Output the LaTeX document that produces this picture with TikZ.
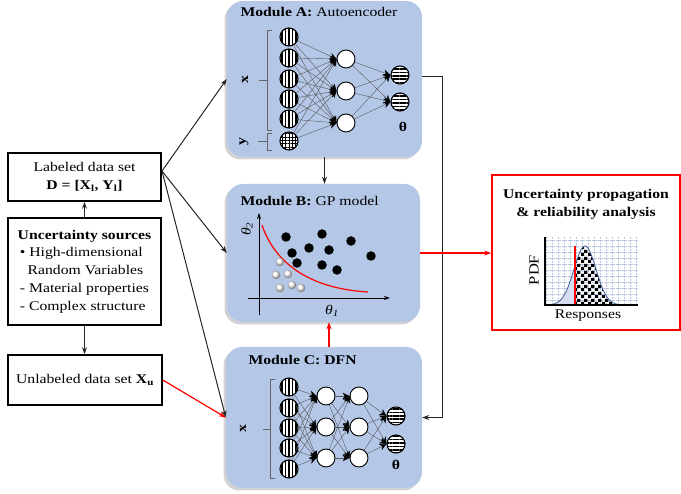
\documentclass[tikz,border=0pt]{standalone}
\usepackage{fontspec}
\setmainfont{Liberation Serif}[FakeStretch=1.18]
\usetikzlibrary{arrows.meta,shadows,patterns,patterns.meta,calc}

\definecolor{modblue}{RGB}{180,199,231}
\definecolor{curveblue}{RGB}{70,100,160}
\definecolor{gridblue}{RGB}{185,198,225}
\definecolor{tailblue}{RGB}{215,222,240}

% coarse checkerboard for the failure region of the PDF
\pgfdeclarepatternformonly{bigchecker}{\pgfqpoint{0pt}{0pt}}{\pgfqpoint{7pt}{7pt}}{\pgfqpoint{7pt}{7pt}}{%
  \pgfpathrectangle{\pgfqpoint{0pt}{0pt}}{\pgfqpoint{3.5pt}{3.5pt}}%
  \pgfpathrectangle{\pgfqpoint{3.5pt}{3.5pt}}{\pgfqpoint{3.5pt}{3.5pt}}%
  \pgfusepath{fill}}

\tikzset{
  module/.style={rectangle, rounded corners=16pt, fill=modblue, draw=none,
    drop shadow={shadow xshift=-2.5pt, shadow yshift=-2.5pt, opacity=0.35}},
  box/.style={rectangle, draw=black, line width=1.6pt, fill=white, inner sep=2pt,
    drop shadow={shadow xshift=-1.5pt, shadow yshift=-1.5pt, opacity=0.3}},
  arr/.style={draw=black!85, line width=1pt, -{Stealth[length=7pt,width=5pt]}},
  redarr/.style={arr, draw=red, fill=red, line width=1.2pt},
  conn/.style={draw=black!65, line width=0.4pt, -{Stealth[length=7pt,width=6.5pt,black]}},
  nn/.style={circle, minimum size=18pt, inner sep=0pt, draw=black, line width=1.1pt},
  vin/.style={nn, preaction={fill=white}, pattern={Lines[angle=90,distance=3.4pt,line width=1.5pt]}},
  hin/.style={nn, preaction={fill=white}, pattern={Lines[angle=0,distance=3.4pt,line width=1.5pt]}},
  gin/.style={nn, preaction={fill=white}, pattern={Hatch[angle=0,distance=3.4pt,line width=0.8pt]}},
  hid/.style={nn, fill=white, line width=0.9pt},
  brk/.style={draw=black!60, line width=0.6pt},
  bdot/.style={circle, minimum size=9.5pt, inner sep=0pt, fill=black},
  wdot/.style={circle, minimum size=8.5pt, inner sep=0pt, shading=ball, ball color=white},
  axis/.style={draw=black, line width=0.8pt, -{Stealth[length=6pt,width=4pt]}},
}

\begin{document}
\begin{tikzpicture}[x=1pt, y=-1pt, font=\fontsize{13.3}{16}\selectfont]
\useasboundingbox (0,0) rectangle (681,494);

% ---------- the three modules ----------
\node[module, minimum width=195pt, minimum height=156pt] (modA) at (324.5,79) {};
\node[module, minimum width=193pt, minimum height=138pt] (modB) at (323.5,253) {};
\node[module, minimum width=196pt, minimum height=141pt] (modC) at (324,417.5) {};

\node[anchor=west] (tA) at (237,12) {\textbf{Module A:} Autoencoder};
\node[anchor=west] (tB) at (237,201) {\textbf{Module B:} GP model};
\node[anchor=west] (tC) at (245,360) {\textbf{Module C: DFN}};

% ---------- data boxes ----------
\node[box, minimum width=153pt, minimum height=48pt, align=center] (lab) at (84.5,177)
  {Labeled data set\\[2pt]\textbf{D = [X\textsubscript{l}, Y\textsubscript{l}]}};
\node[box, minimum width=153pt, minimum height=107pt, align=left,
      font=\fontsize{13.3}{17.7}\selectfont] (unc) at (84.5,271.5)
  {\textbf{Uncertainty sources}\\
   \,• High-dimensional\\
   \hspace*{0.75em}Random Variables\\
   \,- Material properties\\
   \,- Complex structure};
\node[box, minimum width=154pt, minimum height=50pt] (unl) at (85,380)
  {Unlabeled data set \textbf{X\textsubscript{u}}};

% ---------- result box ----------
\node[box, draw=red, minimum width=188pt, minimum height=155pt] (res) at (586,252.5) {};
\node[align=center, font=\fontsize{13.3}{18}\selectfont\bfseries] (tR) at (586,204)
  {Uncertainty propagation\\\& reliability analysis};

% ---------- connectors between blocks ----------
\draw[arr] (unc.north) -- (lab.south);
\draw[arr] (unc.south) -- (unc.south |- unl.north);
\coordinate (fan) at (162,171);
\draw[arr] (fan) -- (modA.west);
\draw[arr] (fan) -- (modB.west);
\draw[arr] (fan) -- (modC.west);
\draw[redarr] (unl.east) -- (modC.west);
\draw[arr] (modA.south) -- (modA.south |- modB.north);
\coordinate (cup) at ($(modC.north)+(5,0)$);
\draw[redarr] (cup) -- (cup |- modB.south);
\coordinate (loopx) at (442,0);
\coordinate (aout) at (modA.east |- 0,77);
\draw[arr] (aout) -- (loopx |- aout) -- (loopx |- modC.east) -- (modC.east);
\draw[redarr] (modB.east) -- (modB.east -| res.west);

% ---------- Module A: autoencoder ----------
\foreach \i/\yy in {1/37,2/58,3/79,4/99,5/119}
  \node[vin] (a\i) at (289,\yy) {};
\node[gin] (a6) at (289,141) {};
\foreach \i/\yy in {1/59,2/91,3/123}
  \node[hid] (hA\i) at (346,\yy) {};
\node[hin] (oA1) at (400,75) {};
\node[hin] (oA2) at (400,102) {};
\foreach \i in {1,...,6}
  \foreach \j in {1,2,3}
    \draw[conn] (a\i) -- (hA\j.west);
\foreach \j in {1,2,3}
  \foreach \k in {1,2}
    \draw[conn] (hA\j) -- (oA\k.west);
\node (thA) at (403,127) {\textbf{θ}};
\draw[brk] (272,30) -- (267,30) -- (267,130) -- (272,130);
\draw[brk] (267,80) -- (259,80);
\draw[brk] (272,133) -- (267,133) -- (267,150) -- (272,150);
\draw[brk] (267,141) -- (258,141);
\node[rotate=90] (lx) at (245,80) {\textbf{x}};
\node[rotate=90] (ly) at (244,142) {\textbf{y}};

% ---------- Module B: GP classifier in latent space ----------
\draw[axis] (259,315) -- (259,213);
\draw[axis] (248,298) -- (390,298);
\node[rotate=90] (th2) at (247,229) {\textit{θ}\textsubscript{\textit{2}}};
\node (th1) at (332,311) {\textit{θ}\textsubscript{\textit{1}}};
\draw[red, line width=1.2pt] (262,225) .. controls (272,255) and (300,288) .. (368,292);
\foreach \px/\py [count=\n] in {286/237,322/234,351/241,292/253,309/248,329/250,371/256,297/263,322/265,337/270}
  \node[bdot] (d\n) at (\px,\py) {};
\foreach \px/\py [count=\n] in {280/262,276/275,288/274,280/288,292/285,301/288}
  \node[wdot] (w\n) at (\px,\py) {};

% ---------- Module C: deep feedforward network ----------
\foreach \i/\yy in {1/387,2/408,3/428,4/448,5/469}
  \node[vin] (c\i) at (289,\yy) {};
\foreach \i/\yy in {1/396,2/427,3/458} {
  \node[hid] (g\i) at (326,\yy) {};
  \node[hid] (k\i) at (359,\yy) {};
}
\node[hin] (oC1) at (396,416) {};
\node[hin] (oC2) at (396,444) {};
\foreach \i in {1,...,5}
  \foreach \j in {1,2,3}
    \draw[conn] (c\i) -- (g\j.west);
\foreach \i in {1,2,3}
  \foreach \j in {1,2,3}
    \draw[conn] (g\i) -- (k\j.west);
\foreach \j in {1,2,3}
  \foreach \k in {1,2}
    \draw[conn] (k\j) -- (oC\k.west);
\node (thC) at (396,465) {\textbf{θ}};
\draw[brk] (275,379) -- (270,379) -- (270,478) -- (275,478);
\draw[brk] (270,429) -- (263,429);
\node[rotate=90] (lxc) at (243,429) {\textbf{x}};

% ---------- PDF sketch in the result box ----------
\draw[gridblue, densely dotted, line width=0.5pt, step=6pt] (545,305) grid (638,237);
\fill[tailblue] (552,305) -- plot[domain=552:575, samples=30]
  (\x,{305-59*exp(-((\x-585)/11)^2/2)}) -- (575,305) -- cycle;
\fill[pattern=bigchecker] (575,305) -- plot[domain=575:622, samples=50]
  (\x,{305-59*exp(-((\x-585)/11)^2/2)}) -- (622,305) -- cycle;
\draw[curveblue, line width=0.8pt] plot[domain=550:622, samples=80, smooth]
  (\x,{305-59*exp(-((\x-585)/11)^2/2)});
\draw[red, line width=1.5pt] (575,305) -- (575,246);
\draw[black, line width=1.5pt] (545,237) -- (545,305) -- (638,305);
\node[rotate=90, font=\fontsize{14}{16}\selectfont] (pdf) at (534,270) {PDF};
\node (respo) at (588,316) {Responses};
\end{tikzpicture}
\end{document}
